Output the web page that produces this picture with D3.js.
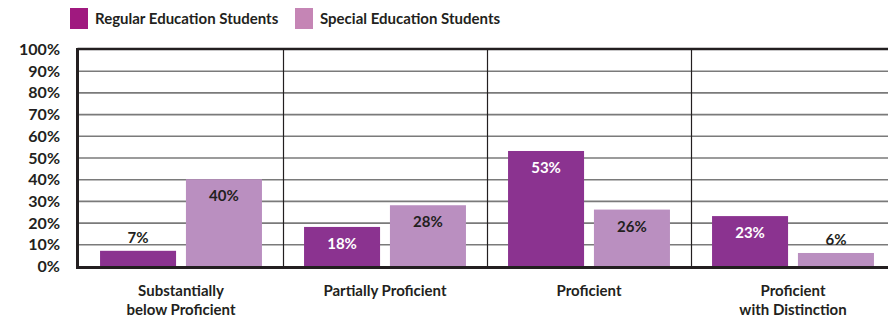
<!DOCTYPE html>
<html>
<head>
<meta charset="utf-8">
<script src="https://cdn.jsdelivr.net/npm/d3@7"></script>
<style>
  body { margin: 0; background: #fff; overflow: hidden; }
  text { font-family: Lato, "DejaVu Sans", sans-serif; font-weight: bold; fill: #231f20; }
</style>
</head>
<body>
<div id="chart"></div>
<script>
// chart data
let categories = [["Substantially", "below Proficient"], ["Partially Proficient"], ["Proficient"], ["Proficient", "with Distinction"]];
let seriesNames = ["Regular Education Students", "Special Education Students"];
let regular = [7, 18, 53, 23];
let special = [40, 28, 26, 6];
let yTicks = [0, 10, 20, 30, 40, 50, 60, 70, 80, 90, 100];

var width = 888;
var height = 320;
var margin = { top: 49, bottom: 51, left: 79, right: -7 };

let barColors = ["#8b3390", "#ba8fc0"];
let legendColors = ["#a0197f", "#c585b5"];

let svg = d3.select('#chart')
    .append('svg')
        .attr('width', width)
        .attr('height', height);

let xScale = d3.scaleBand()
    .domain(d3.range(categories.length))
    .range([margin.left, width - margin.right]);

let xInner = d3.scaleBand()
    .domain([0, 1])
    .range([0, xScale.bandwidth()])
    .paddingInner(0.115)
    .paddingOuter(0.245);

let yScale = d3.scaleLinear()
    .domain([0, 100])
    .range([height - margin.bottom - 3, margin.top]);

// gridlines
svg.append('g')
    .selectAll('line')
    .data(yTicks.slice(1, -1))
    .enter().append('line')
        .attr('x1', margin.left)
        .attr('x2', width)
        .attr('y1', d => yScale(d) + 0.5)
        .attr('y2', d => yScale(d) + 0.5)
        .attr('stroke', '#7a7a7a')
        .attr('stroke-width', 1.6);

// category dividers
svg.append('g')
    .selectAll('line')
    .data(d3.range(1, categories.length))
    .enter().append('line')
        .attr('x1', d => xScale(d) + 0.5)
        .attr('x2', d => xScale(d) + 0.5)
        .attr('y1', yScale(100))
        .attr('y2', yScale(0))
        .attr('stroke', '#231f20')
        .attr('stroke-width', 1.2);

// bars
let rows = categories.map((c, i) => [regular[i], special[i]]);
let groups = svg.selectAll('.grp')
    .data(rows)
    .enter().append('g')
        .attr('class', 'grp')
        .attr('transform', (d, i) => 'translate(' + xScale(i) + ',0)');

groups.selectAll('rect')
    .data(d => d)
    .enter().append('rect')
        .attr('x', (d, j) => xInner(j))
        .attr('width', xInner.bandwidth())
        .attr('y', d => yScale(d))
        .attr('height', d => yScale(0) - yScale(d))
        .attr('fill', (d, j) => barColors[j]);

// value labels
groups.selectAll('.val')
    .data(d => d)
    .enter().append('text')
        .attr('class', 'val')
        .attr('x', (d, j) => xInner(j) + xInner.bandwidth() / 2)
        .attr('y', d => d < 10 ? yScale(d) - 8 : yScale(d) + 22)
        .attr('text-anchor', 'middle')
        .style('font-size', '15px')
        .style('fill', (d, j) => (j == 0 && d >= 10) ? '#fff' : '#231f20')
        .text(d => d + '%');

// frame
let y0 = yScale(0), y100 = yScale(100);
svg.append('line')
    .attr('x1', margin.left - 1.5).attr('x2', width)
    .attr('y1', y100).attr('y2', y100)
    .attr('stroke', '#231f20').attr('stroke-width', 2.5);
svg.append('line')
    .attr('x1', margin.left - 1.5).attr('x2', margin.left - 1.5)
    .attr('y1', y100 - 1).attr('y2', y0 + 1.5)
    .attr('stroke', '#231f20').attr('stroke-width', 3);
svg.append('line')
    .attr('x1', margin.left - 3).attr('x2', width)
    .attr('y1', y0 + 1.5).attr('y2', y0 + 1.5)
    .attr('stroke', '#231f20').attr('stroke-width', 3);

// y axis labels
svg.append('g')
    .selectAll('text')
    .data(yTicks)
    .enter().append('text')
        .attr('x', 60)
        .attr('y', d => yScale(d) + 6)
        .attr('text-anchor', 'end')
        .style('font-size', '16px')
        .text(d => d + '%');

// category labels
svg.append('g')
    .selectAll('text')
    .data(categories)
    .enter().append('text')
        .attr('text-anchor', 'middle')
        .attr('x', (d, i) => xScale(i) + xScale.bandwidth() / 2)
        .attr('y', 296)
        .style('font-size', '15px')
        .selectAll('tspan')
        .data(d => d)
        .enter().append('tspan')
            .attr('x', function () { return this.parentNode.getAttribute('x'); })
            .attr('dy', (d, k) => k == 0 ? 0 : 18.5)
            .text(d => d);

// legend
let legendX = [70, 295];
let legend = svg.append('g')
    .selectAll('g')
    .data(seriesNames)
    .enter().append('g')
        .attr('transform', (d, i) => 'translate(' + legendX[i] + ',8)');
legend.append('rect')
    .attr('width', 18)
    .attr('height', 21)
    .attr('fill', (d, i) => legendColors[i]);
legend.append('text')
    .attr('x', 25)
    .attr('y', 16)
    .style('font-size', '15px')
    .text(d => d);
</script>
</body>
</html>
